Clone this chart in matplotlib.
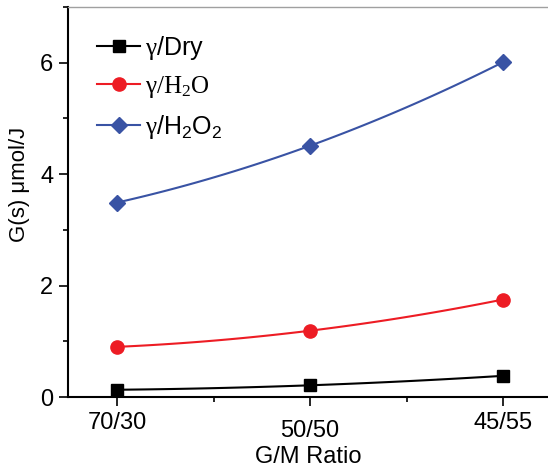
import matplotlib
matplotlib.use("Agg")
import matplotlib.pyplot as plt
import matplotlib.transforms as mtransforms
from matplotlib.lines import Line2D
from matplotlib.ticker import MultipleLocator
import numpy as np

plt.rcParams['font.family'] = ['Liberation Sans', 'DejaVu Sans']
plt.rcParams['mathtext.fontset'] = 'custom'
plt.rcParams['mathtext.rm'] = 'Liberation Sans'
plt.rcParams['mathtext.it'] = 'Liberation Sans:italic'
plt.rcParams['mathtext.cal'] = 'Liberation Serif'

# === データ ===
ratios = ['70/30', '50/50', '45/55']
g_dry = [0.13, 0.21, 0.38]
g_h2o = [0.90, 1.19, 1.75]
g_h2o2 = [3.49, 4.51, 6.01]

series = [
    (g_dry, r'$\mathcal{γ}$/Dry', 'black', 's', 8.5),
    (g_h2o, r'$\mathcal{γ/H_2O}$', '#ED1C24', 'o', 9.5),
    (g_h2o2, r'$\mathcal{γ}$/H$_2$O$_2$', '#3953A4', 'D', 8),
]

fig = plt.figure(figsize=(5.48, 4.69), dpi=100)
ax = fig.add_axes([68 / 548, 1 - 397 / 469, 1 - 68 / 548, 390 / 469])

x = np.arange(len(ratios))
xs = np.linspace(0, len(ratios) - 1, 100)
handles = []
for vals, label, color, marker, ms in series:
    # 3点を通る滑らかな曲線
    coef = np.polyfit(x, vals, 2)
    ax.plot(xs, np.polyval(coef, xs), color=color, lw=1.5, zorder=2)
    ax.plot(x, vals, ls='none', marker=marker, ms=ms, color=color, zorder=3)
    handles.append(Line2D([], [], color=color, lw=1.5, marker=marker, ms=ms, label=label))

ax.set_xlim(-0.254, 2.233)
ax.set_ylim(0, 7)
ax.set_xticks(x)
ax.set_xticklabels(ratios)
ax.xaxis.set_minor_locator(MultipleLocator(0.5))
ax.set_yticks([0, 2, 4, 6])
ax.yaxis.set_minor_locator(MultipleLocator(1))
ax.tick_params(which='major', direction='out', length=6.5, width=1.2, labelsize=17, pad=4)
ax.tick_params(which='minor', direction='out', length=3.5, width=1.2)
ax.tick_params(axis='x', which='major', pad=4)

# 中央のラベルを少し下げる
mid = ax.get_xticklabels()[1]
mid.set_transform(mid.get_transform() + mtransforms.ScaledTranslation(0, -6 / 72, fig.dpi_scale_trans))

for side in ['left', 'bottom']:
    ax.spines[side].set_linewidth(1.5)
ax.spines['right'].set_visible(False)
ax.spines['top'].set_color('#A0A0A0')
ax.spines['top'].set_linewidth(1.0)

ax.set_xlabel('G/M Ratio', fontsize=17, labelpad=3)
ax.set_ylabel('G(s) μmol/J', fontsize=16)
ax.yaxis.set_label_coords(-0.08, 0.545)

ax.legend(handles=handles, loc='upper left', bbox_to_anchor=(0.03, 0.97), frameon=False,
          fontsize=18, handlelength=1.7, handletextpad=0.2, labelspacing=0.5, borderaxespad=0.2)

fig.savefig('out.png', dpi=100)
